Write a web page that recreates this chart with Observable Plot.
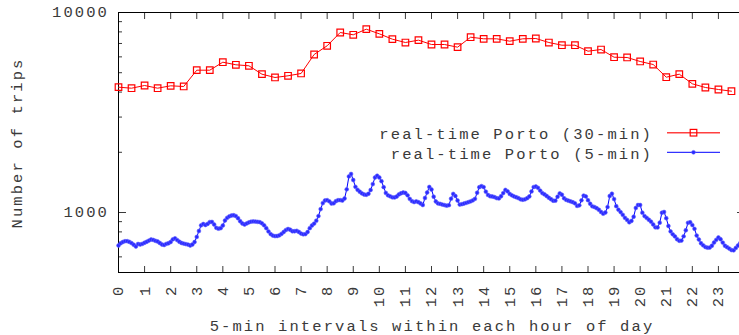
<!DOCTYPE html>
<html>
<head>
<meta charset="utf-8">
<script src="https://cdn.jsdelivr.net/npm/d3@7"></script>
<script src="https://cdn.jsdelivr.net/npm/@observablehq/plot@0.6"></script>
<style>
  html, body { margin: 0; padding: 0; background: #fff; overflow: hidden; }
  #chart svg { overflow: hidden; }
</style>
</head>
<body>
<div id="chart"></div>
<script>
// Hour-of-day tick labels and labelled y ticks
const hourTicks = d3.range(24);
const yMajorTicks = [1000, 10000];
const yMinorTicks = [600, 700, 800, 900, 2000, 3000, 4000, 5000, 6000, 7000, 8000, 9000];

// Trips per 30-minute interval (48 values, starting at 00:00)
const trips30 = [4232, 4183, 4315, 4183, 4300, 4266, 5147, 5147, 5643, 5477, 5414, 4915,
                 4732, 4826, 4955, 6166, 6817, 7943, 7736, 8252, 7824, 7355, 7079, 7272,
                 6918, 6918, 6708, 7525, 7387, 7387, 7187, 7387, 7413, 7079, 6863, 6863,
                 6405, 6531, 5976, 5957, 5689, 5495, 4748, 4915, 4400, 4217, 4121, 4041];

// Trips per 5-minute interval, in 4-hour blocks (48 values each)
const trips5_h00 = [684, 702, 712, 719, 719, 713, 703, 690, 676, 696, 692, 697,
                    706, 714, 724, 733, 729, 722, 716, 704, 692, 688, 697, 702,
                    712, 734, 743, 728, 714, 704, 699, 695, 691, 684, 692, 712,
                    755, 808, 863, 876, 866, 877, 896, 897, 871, 838, 830, 835];
const trips5_h04 = [861, 912, 941, 957, 966, 969, 960, 936, 904, 881, 871, 882,
                    893, 900, 902, 901, 898, 895, 883, 863, 835, 804, 780, 767,
                    762, 763, 769, 782, 799, 817, 827, 820, 806, 806, 810, 799,
                    785, 778, 780, 799, 835, 861, 880, 910, 960, 1040, 1114, 1148];
const trips5_h08 = [1153, 1137, 1109, 1112, 1139, 1153, 1153, 1148, 1175, 1306, 1514, 1558,
                    1454, 1344, 1299, 1270, 1246, 1230, 1226, 1241, 1296, 1387, 1496, 1527,
                    1496, 1434, 1339, 1253, 1219, 1205, 1191, 1189, 1202, 1232, 1248, 1259,
                    1252, 1219, 1170, 1140, 1128, 1137, 1126, 1109, 1090, 1182, 1259, 1342];
const trips5_h12 = [1303, 1199, 1135, 1110, 1104, 1096, 1089, 1082, 1088, 1172, 1239, 1209,
                    1148, 1096, 1101, 1109, 1118, 1127, 1137, 1150, 1170, 1255, 1339, 1355,
                    1340, 1271, 1224, 1206, 1202, 1194, 1180, 1176, 1206, 1250, 1297, 1276,
                    1238, 1219, 1203, 1192, 1180, 1164, 1158, 1164, 1179, 1203, 1274, 1340];
const trips5_h16 = [1349, 1329, 1287, 1250, 1232, 1209, 1185, 1165, 1145, 1146, 1199, 1246,
                    1227, 1178, 1156, 1146, 1136, 1126, 1112, 1079, 1086, 1151, 1215, 1203,
                    1152, 1106, 1074, 1065, 1051, 1032, 1006, 986, 1000, 1065, 1209, 1241,
                    1167, 1076, 1033, 1005, 974, 941, 918, 894, 908, 952, 1054, 1090];
const trips5_h20 = [1090, 998, 960, 940, 920, 900, 871, 843, 842, 889, 997, 1006,
                    937, 856, 804, 778, 759, 735, 722, 724, 760, 815, 888, 894,
                    865, 829, 767, 733, 702, 685, 672, 667, 668, 682, 708, 730,
                    750, 735, 707, 682, 671, 660, 649, 647, 665, 684, 702, 716];

const trips5 = [].concat(trips5_h00, trips5_h04, trips5_h08, trips5_h12, trips5_h16, trips5_h20);

const series30 = trips30.map((v, i) => ({hour: i / 2, trips: v}));
const series5 = trips5.map((v, i) => ({hour: i / 12, trips: v}));

const FONT = "'Liberation Mono', 'DejaVu Sans Mono', monospace";
const TEXT = "#3a3a3a";
const RED = "#ff0000";
const BLUE = "#0000ff";

const blank = () => "";

const chart = Plot.plot({
  width: 739,
  height: 335,
  marginLeft: 118,
  marginRight: -5,
  marginTop: 12,
  marginBottom: 63,
  style: {fontFamily: FONT, fontSize: "15.5px", letterSpacing: "2.1px", background: "white", color: TEXT},
  x: {domain: [0, 24]},
  y: {type: "log", domain: [Math.pow(10, 2.7), 10000]},
  marks: [
    // inward ticks on all four sides
    Plot.axisX({anchor: "bottom", ticks: hourTicks, tickSize: 6, insetBottom: 6, tickFormat: blank, label: null}),
    Plot.axisX({anchor: "top", ticks: hourTicks, tickSize: 6, insetTop: 6, tickFormat: blank, label: null}),
    Plot.axisY({anchor: "left", ticks: yMajorTicks, tickSize: 8, insetLeft: 8, tickFormat: blank, label: null}),
    Plot.axisY({anchor: "left", ticks: yMinorTicks, tickSize: 4, insetLeft: 4, tickFormat: blank, label: null}),
    Plot.axisY({anchor: "right", ticks: yMajorTicks, tickSize: 8, insetRight: 8, tickFormat: blank, label: null}),
    Plot.axisY({anchor: "right", ticks: yMinorTicks, tickSize: 4, insetRight: 4, tickFormat: blank, label: null}),
    // tick labels
    Plot.axisX({anchor: "bottom", ticks: hourTicks, tickSize: 0, tickPadding: 12, tickRotate: -90,
                tickFormat: d => String(d), label: null, fill: TEXT}),
    Plot.axisY({anchor: "left", ticks: yMajorTicks, tickSize: 0, tickPadding: 9.5,
                tickFormat: d => String(d), label: null, fill: TEXT}),
    Plot.frame({stroke: "black", strokeWidth: 1}),
    // 30-minute series
    Plot.line(series30, {x: "hour", y: "trips", stroke: RED, strokeWidth: 1}),
    Plot.dot(series30, {x: "hour", y: "trips", symbol: "square", r: 3.7, stroke: RED, strokeWidth: 1.2, fill: "none"}),
    // 5-minute series
    Plot.line(series5, {x: "hour", y: "trips", stroke: BLUE, strokeWidth: 1}),
    Plot.dot(series5, {x: "hour", y: "trips", r: 1.9, fill: "#2a2aff", stroke: "#6060ff", strokeWidth: 0.6})
  ]
});

const svg = d3.select(chart);

// axis titles
svg.append("text")
  .attr("x", 432).attr("y", 331)
  .attr("text-anchor", "middle")
  .attr("fill", TEXT)
  .text("5-min intervals within each hour of day");

svg.append("text")
  .attr("transform", "translate(22,143) rotate(-90)")
  .attr("text-anchor", "middle")
  .attr("fill", TEXT)
  .text("Number of trips");

// key
const key = svg.append("g");
const entries = [
  {label: "real-time Porto (30-min)", color: RED, y: 132.7, square: true},
  {label: "real-time Porto (5-min)", color: BLUE, y: 152.3, square: false}
];
for (const e of entries) {
  key.append("text")
    .attr("x", 653).attr("y", e.y + 6.5)
    .attr("text-anchor", "end")
    .attr("fill", TEXT)
    .text(e.label);
  key.append("line")
    .attr("x1", 667).attr("x2", 720)
    .attr("y1", e.y).attr("y2", e.y)
    .attr("stroke", e.color)
    .attr("stroke-width", e.square ? 1.6 : 1)
    .attr("stroke-opacity", e.square ? 0.75 : 1);
  if (e.square) {
    key.append("rect")
      .attr("x", 693.5 - 3.3).attr("y", e.y - 3.3)
      .attr("width", 6.6).attr("height", 6.6)
      .attr("fill", "none").attr("stroke", RED).attr("stroke-width", 1.2);
  } else {
    key.append("circle")
      .attr("cx", 693.5).attr("cy", e.y).attr("r", 1.9)
      .attr("fill", "#2a2aff").attr("stroke", "#6060ff").attr("stroke-width", 0.6);
  }
}

document.getElementById("chart").appendChild(chart);
</script>
</body>
</html>
